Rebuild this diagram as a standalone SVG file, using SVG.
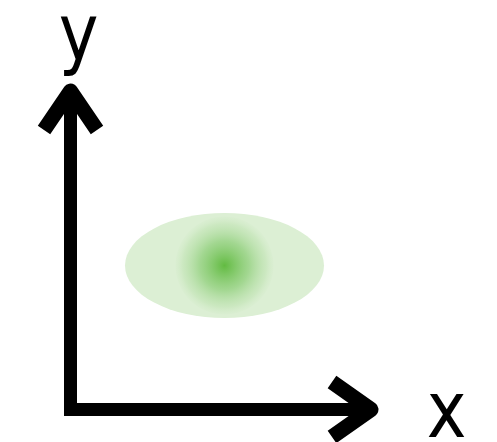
<svg xmlns="http://www.w3.org/2000/svg" width="497" height="442" viewBox="0 0 497 442">
<style>
.axis{fill:none;stroke:#000;stroke-width:13}
.head{fill:none;stroke:#000;stroke-width:15;stroke-linejoin:round}
.lbl{font-family:"DejaVu Sans",sans-serif;font-size:79px;fill:#000;text-anchor:middle}
</style>
<defs>
<radialGradient id="g" cx="224.5" cy="265.5" r="49" gradientUnits="userSpaceOnUse">
<stop offset="0" stop-color="#5cb83a" stop-opacity="0.95"/>
<stop offset="0.5" stop-color="#7cc764" stop-opacity="0.6"/>
<stop offset="0.85" stop-color="#a5d893" stop-opacity="0.3"/>
<stop offset="1" stop-color="#c4e5b8" stop-opacity="0.1"/>
</radialGradient>
<clipPath id="c"><ellipse cx="224.5" cy="265.5" rx="99.5" ry="52.5"/></clipPath>
</defs>
<g id="blob">
<ellipse cx="224.5" cy="265.5" rx="99.5" ry="52.5" fill="#dcefd4"/>
<circle cx="224.5" cy="265.5" r="49" fill="url(#g)" clip-path="url(#c)"/>
</g>
<g id="connectors">
<polyline class="axis" points="70.5,92 70.5,409.5 370,409.5" stroke-linejoin="miter"/>
<polyline class="head" points="44,130 70.5,91 97,130"/>
<polyline class="head" points="332,382 371,409.5 332,437"/>
</g>
<g id="label-y"><text class="lbl" transform="translate(78.5,60) scale(0.85,1)">y</text></g>
<g id="label-x"><text class="lbl" transform="translate(446.5,437) scale(0.85,1)">x</text></g>
</svg>
